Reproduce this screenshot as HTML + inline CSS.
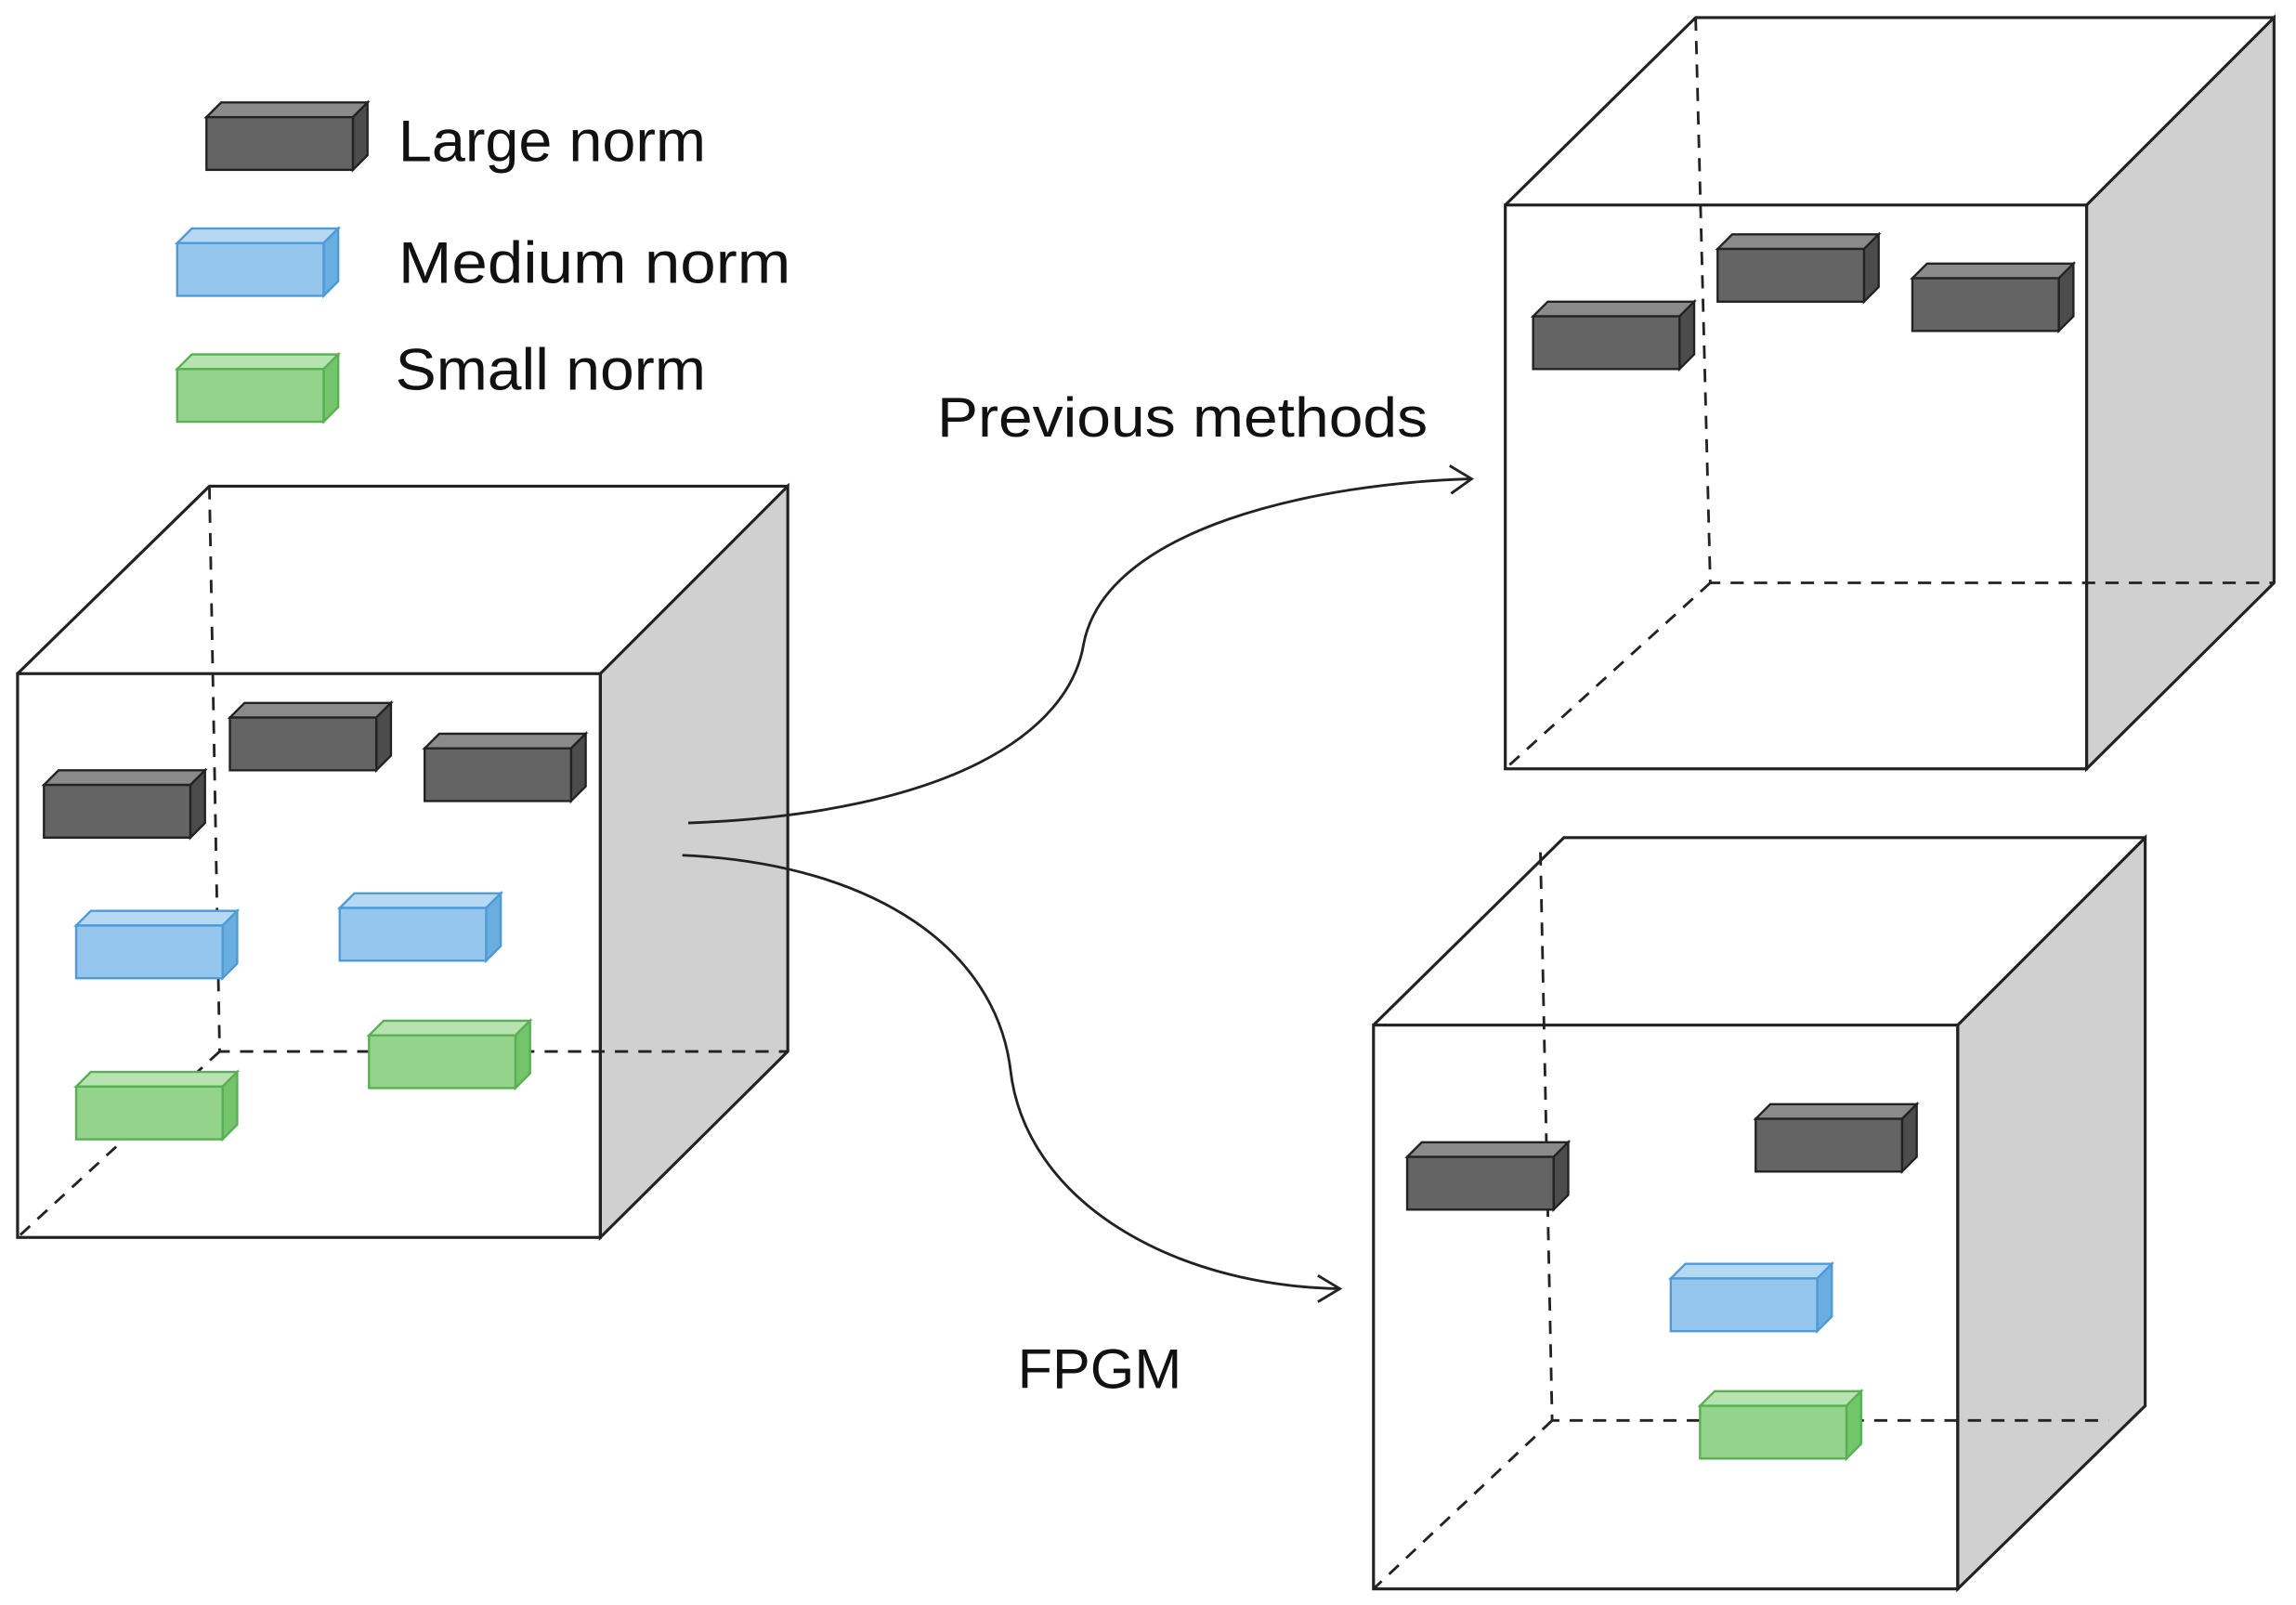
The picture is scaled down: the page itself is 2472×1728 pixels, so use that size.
<!DOCTYPE html>
<html><head><meta charset="utf-8"><style>
html,body{margin:0;padding:0;background:#fff;}
svg{display:block;}
text{font-family:"Liberation Sans",sans-serif;fill:#111;}
</style></head><body>
<svg width="2472" height="1728" viewBox="0 0 1568 1096" preserveAspectRatio="none" xmlns="http://www.w3.org/2000/svg">
<defs>
<g id="dark">
<polygon points="0,0 10,-10 110,-10 100,0" fill="#8a8a8a" stroke="#222" stroke-width="1.5"/>
<polygon points="100,0 110,-10 110,26 100,36" fill="#4c4c4c" stroke="#222" stroke-width="1.5"/>
<rect x="0" y="0" width="100" height="36" fill="#646464" stroke="#222" stroke-width="1.5"/>
</g>
<g id="blue">
<polygon points="0,0 10,-10 110,-10 100,0" fill="#b5d8f3" stroke="#4f9ad6" stroke-width="1.5"/>
<polygon points="100,0 110,-10 110,26 100,36" fill="#6aaee0" stroke="#4f9ad6" stroke-width="1.5"/>
<rect x="0" y="0" width="100" height="36" fill="#94c6ee" stroke="#4f9ad6" stroke-width="1.5"/>
</g>
<g id="green">
<polygon points="0,0 10,-10 110,-10 100,0" fill="#b7e3b1" stroke="#58b052" stroke-width="1.5"/>
<polygon points="100,0 110,-10 110,26 100,36" fill="#74c46c" stroke="#58b052" stroke-width="1.5"/>
<rect x="0" y="0" width="100" height="36" fill="#93d38c" stroke="#58b052" stroke-width="1.5"/>
</g>
</defs>
<g stroke="#222" stroke-width="2" fill="none">
<polygon points="410,460 538,332 538,718 410,845" fill="#d0d0d0"/>
<polyline points="12,460 143,332 538,332"/>
<rect x="12" y="460" width="398" height="385" fill="none"/>
<g stroke-dasharray="9,7" stroke-width="1.8">
<polyline points="143,332 150,718 538,718"/><line x1="150" y1="718" x2="12" y2="845"/>
</g>
<polygon points="1425,140 1553,12 1553,398 1425,525" fill="#d0d0d0"/>
<polyline points="1028,140 1158,12 1553,12"/>
<rect x="1028" y="140" width="397" height="385"/>
<g stroke-dasharray="9,7" stroke-width="1.8">
<polyline points="1158,12 1168,398 1553,398"/><line x1="1168" y1="398" x2="1028" y2="525"/>
</g>
<polygon points="1337,700 1465,572 1465,960 1337,1085" fill="#d0d0d0"/>
<polyline points="938,700 1068,572 1465,572"/>
<rect x="938" y="700" width="399" height="385"/>
<g stroke-dasharray="9,7" stroke-width="1.8">
<polyline points="1052,582 1060,970 1440,970"/><line x1="1060" y1="970" x2="938" y2="1085"/>
</g>
<path d="M470,562 C650,555 730,500 740,440 C755,360 900,330 1005,327" stroke-width="1.8"/>
<polyline points="990,318 1005,327 991,337" stroke-width="1.8"/>
<path d="M466,584 C600,590 680,650 690,730 C700,820 800,878 915,880" stroke-width="1.8"/>
<polyline points="900,871 915,880 900,889" stroke-width="1.8"/>
</g>
<use href="#dark" x="141" y="80"/>
<use href="#blue" x="121" y="166"/>
<use href="#green" x="121" y="252"/>
<use href="#dark" x="30" y="536"/>
<use href="#dark" x="157" y="490"/>
<use href="#dark" x="290" y="511"/>
<use href="#blue" x="52" y="632"/>
<use href="#blue" x="232" y="620"/>
<use href="#green" x="52" y="742"/>
<use href="#green" x="252" y="707"/>
<use href="#dark" x="1047" y="216"/>
<use href="#dark" x="1173" y="170"/>
<use href="#dark" x="1306" y="190"/>
<use href="#dark" x="961" y="790"/>
<use href="#dark" x="1199" y="764"/>
<use href="#blue" x="1141" y="873"/>
<use href="#green" x="1161" y="960"/>
<text x="272" y="110" font-size="40" textLength="210" lengthAdjust="spacingAndGlyphs">Large norm</text>
<text x="272" y="193" font-size="40" textLength="268" lengthAdjust="spacingAndGlyphs">Medium norm</text>
<text x="270" y="266" font-size="40" textLength="212" lengthAdjust="spacingAndGlyphs">Small norm</text>
<text x="640" y="298" font-size="38" textLength="335" lengthAdjust="spacingAndGlyphs">Previous methods</text>
<text x="695" y="948" font-size="38" textLength="112" lengthAdjust="spacingAndGlyphs">FPGM</text>
</svg>
</body></html>
